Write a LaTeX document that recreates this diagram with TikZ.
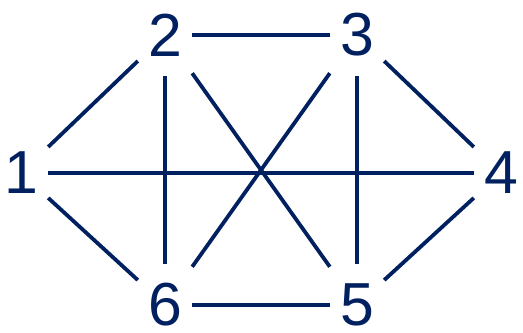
\documentclass[tikz,border=0pt]{standalone}
\usepackage{fontspec}
\setmainfont{Liberation Sans}
\usepackage{xcolor}
\usepackage{tikz}
\usetikzlibrary{positioning}
\definecolor{C_EDGE}{HTML}{002060}

\begin{document}
\begin{tikzpicture}[
  x=1bp, y=1bp,
  vert/.style={inner sep=0pt, minimum width=54bp, minimum height=82bp,
               text=C_EDGE, font=\fontsize{61}{61}\selectfont},
  link/.style={line width=3.8bp, color=C_EDGE},
]
\useasboundingbox (0,0) rectangle (523,332);

%% Vertices
\node[vert] (v1) at (21,159)  {1};
\node[vert] (v2) at (165,297) {2};
\node[vert] (v3) at (357,297) {3};
\node[vert] (v4) at (501,159) {4};
\node[vert] (v5) at (357,27)  {5};
\node[vert] (v6) at (165,27)  {6};

%% Outer ring
\draw[link] (v1) -- (v2);
\draw[link] (v2) -- (v3);
\draw[link] (v3) -- (v4);
\draw[link] (v4) -- (v5);
\draw[link] (v5) -- (v6);
\draw[link] (v6) -- (v1);

%% Chords
\draw[link] (v1) -- (v4);
\draw[link] (v2) -- (v6);
\draw[link] (v2) -- (v5);
\draw[link] (v3) -- (v5);
\draw[link] (v3) -- (v6);

\end{tikzpicture}
\end{document}
